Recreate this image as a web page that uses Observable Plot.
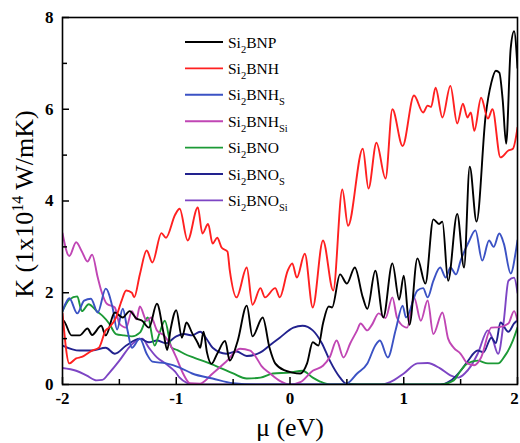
<!DOCTYPE html>
<html><head><meta charset="utf-8">
<script src="https://cdn.jsdelivr.net/npm/d3@7"></script>
<script src="https://cdn.jsdelivr.net/npm/@observablehq/plot@0.6"></script>
<style>
body{margin:0;background:#fff}
#chart{position:relative;width:520px;height:443px}
#chart svg, #chart svg text, #chart svg tspan { font-family: "Liberation Serif", "Times New Roman", Times, "DejaVu Serif", serif !important; }
</style>
</head><body><div id="chart"></div>
<script>
// tick values
const xTicks = [-2, -1, 0, 1, 2];
const xMinor = [-1.5, -0.5, 0.5, 1.5];
const yTicks = [0, 2, 4, 6, 8];
const yMinor = [1, 3, 5, 7];

// series names (legend) and colours
const names = ["Si2BNP", "Si2BNH", "Si2BNHS", "Si2BNHSi", "Si2BNO", "Si2BNOS", "Si2BNOSi"];
const legendSub = ["", "", "S", "Si", "", "S", "Si"];
const legendBase = ["BNP", "BNH", "BNH", "BNH", "BNO", "BNO", "BNO"];
const colors = ["#000000", "#ff2020", "#3b52c4", "#c046b4", "#1c9a36", "#22228e", "#7d45c4"];

// [mu (eV), K (1e14 W/mK)]
const kBNP = [[-2.00,1.4],[-1.99,1.39],[-1.92,1.07],[-1.85,1.07],[-1.78,1.22],[-1.74,1.08],[-1.66,1.28],[-1.62,1.07],[-1.54,1.57],[-1.47,1.46],[-1.41,1.6],[-1.35,1.44],[-1.30,1.39],[-1.24,1.24],[-1.17,1.76],[-1.11,1.1],[-1.08,0.75],[-1.05,1.2],[-1.00,1.62],[-0.95,1.02],[-0.91,1.35],[-0.86,1.12],[-0.81,0.9],[-0.79,0.8],[-0.76,1.15],[-0.73,0.7],[-0.69,0.45],[-0.64,0.67],[-0.57,0.95],[-0.53,0.52],[-0.46,0.95],[-0.38,1.72],[-0.33,1.05],[-0.24,1.46],[-0.18,0.8],[-0.13,0.46],[-0.04,0.3],[0.02,0.26],[0.09,0.24],[0.15,0.46],[0.20,0.92],[0.25,0.85],[0.29,1.33],[0.34,1.7],[0.37,1.68],[0.44,2.4],[0.50,2.2],[0.57,2.55],[0.64,1.9],[0.68,1.65],[0.75,2.48],[0.82,1.46],[0.90,2.64],[0.96,1.85],[1.00,2.37],[1.05,1.3],[1.12,2.75],[1.19,2.2],[1.26,3.6],[1.31,3.5],[1.34,3.55],[1.39,2.26],[1.47,3.72],[1.53,2.55],[1.58,4.75],[1.64,3.55],[1.72,5.86],[1.77,6.58],[1.81,6.84],[1.84,6.8],[1.87,6.2],[1.90,5.25],[1.94,7.32],[1.97,7.7],[2.00,6.9]];
const kBNH = [[-2.00,1.55],[-1.94,0.46],[-1.88,0.57],[-1.83,0.6],[-1.74,0.74],[-1.68,0.8],[-1.62,1.18],[-1.59,1.24],[-1.53,1.46],[-1.48,1.83],[-1.44,2.05],[-1.39,2.0],[-1.37,1.9],[-1.32,2.4],[-1.26,2.92],[-1.21,2.66],[-1.13,3.3],[-1.09,3.2],[-1.01,3.7],[-0.97,3.83],[-0.90,3.14],[-0.81,3.86],[-0.77,3.29],[-0.72,3.5],[-0.68,3.07],[-0.64,3.2],[-0.60,2.98],[-0.55,2.9],[-0.53,2.5],[-0.47,1.9],[-0.38,2.55],[-0.33,1.74],[-0.26,2.1],[-0.22,1.9],[-0.13,2.1],[-0.09,1.9],[-0.02,2.48],[0.02,2.64],[0.06,2.33],[0.13,2.85],[0.20,1.68],[0.29,3.14],[0.38,2.05],[0.46,4.25],[0.51,3.46],[0.64,5.14],[0.69,4.27],[0.76,5.27],[0.84,4.49],[0.90,6.0],[0.99,5.2],[1.09,6.3],[1.17,5.93],[1.21,6.08],[1.24,6.05],[1.28,6.47],[1.34,5.82],[1.41,6.51],[1.47,5.69],[1.52,6.12],[1.56,5.82],[1.59,5.93],[1.62,5.53],[1.68,6.25],[1.74,5.8],[1.78,6.0],[1.85,4.95],[1.92,5.1],[1.96,5.14],[2.00,5.6]];
const kBNHS = [[-2.00,1.6],[-1.94,1.88],[-1.87,1.55],[-1.81,1.83],[-1.75,1.87],[-1.69,1.57],[-1.62,2.09],[-1.56,1.68],[-1.52,1.2],[-1.47,1.65],[-1.43,1.2],[-1.39,0.8],[-1.32,1.0],[-1.26,0.67],[-1.21,0.5],[-1.09,0.46],[-0.97,0.37],[-0.86,0.24],[-0.68,0.13],[-0.50,0.03],[-0.26,0.0],[0.44,0.0],[0.50,0.02],[0.59,0.24],[0.68,0.46],[0.75,0.85],[0.79,0.96],[0.86,0.59],[0.93,1.2],[0.99,1.72],[1.02,1.46],[1.12,2.05],[1.17,2.1],[1.21,1.9],[1.26,2.26],[1.32,2.55],[1.37,2.33],[1.41,2.55],[1.46,2.4],[1.50,2.7],[1.57,3.1],[1.63,3.36],[1.69,2.7],[1.75,3.14],[1.79,3.0],[1.84,3.29],[1.88,3.07],[1.94,2.42],[1.99,2.98],[2.00,3.14]];
const kBNHSi = [[-2.00,3.3],[-1.94,2.8],[-1.88,3.1],[-1.83,2.9],[-1.78,2.68],[-1.74,2.83],[-1.69,2.33],[-1.66,2.05],[-1.61,1.76],[-1.54,1.68],[-1.50,1.33],[-1.44,1.24],[-1.39,1.6],[-1.35,1.42],[-1.32,1.7],[-1.26,1.39],[-1.22,1.46],[-1.17,1.18],[-1.10,1.05],[-1.06,0.9],[-1.00,0.59],[-0.94,0.24],[-0.88,0.03],[-0.79,0.02],[-0.68,0.24],[-0.56,0.5],[-0.44,0.78],[-0.35,0.74],[-0.30,0.6],[-0.25,0.4],[-0.18,0.25],[-0.09,0.08],[0.00,0.0],[0.09,0.05],[0.20,0.3],[0.29,0.41],[0.35,0.6],[0.41,0.96],[0.47,0.59],[0.53,0.9],[0.59,1.18],[0.62,1.33],[0.68,1.18],[0.72,1.3],[0.78,1.55],[0.84,1.45],[0.90,1.9],[0.94,1.46],[0.97,1.33],[1.03,1.24],[1.09,1.9],[1.15,1.39],[1.21,1.83],[1.26,1.1],[1.34,1.57],[1.39,1.0],[1.44,0.8],[1.50,0.67],[1.56,0.46],[1.62,0.42],[1.68,0.59],[1.77,1.24],[1.84,1.25],[1.92,1.33],[1.97,1.6],[2.00,1.39]];
const kBNO = [[-2.00,1.6],[-1.94,1.85],[-1.87,1.92],[-1.83,1.6],[-1.77,1.75],[-1.70,1.6],[-1.65,1.5],[-1.59,1.33],[-1.53,1.1],[-1.46,1.07],[-1.39,1.05],[-1.32,1.13],[-1.25,1.46],[-1.19,0.85],[-1.15,1.1],[-1.10,1.39],[-1.04,0.8],[-0.99,0.75],[-0.93,0.67],[-0.84,0.58],[-0.73,0.48],[-0.62,0.37],[-0.50,0.24],[-0.38,0.13],[-0.26,0.15],[-0.15,0.24],[0.00,0.26],[0.11,0.3],[0.20,0.15],[0.26,0.07],[0.35,0.0],[1.32,0.0],[1.44,0.09],[1.50,0.3],[1.56,0.46],[1.65,0.52],[1.74,0.46],[1.83,0.46],[1.88,0.59],[1.96,0.96],[2.00,1.24]];
const kBNOS = [[-2.00,0.85],[-1.85,0.74],[-1.74,0.74],[-1.62,0.8],[-1.54,0.67],[-1.44,0.85],[-1.32,1.0],[-1.24,0.92],[-1.17,0.96],[-1.09,0.9],[-1.00,1.05],[-0.93,1.1],[-0.86,1.07],[-0.79,1.15],[-0.73,0.98],[-0.68,0.8],[-0.56,0.67],[-0.47,0.72],[-0.38,0.62],[-0.26,0.7],[-0.18,0.85],[-0.09,1.02],[0.03,1.24],[0.11,1.28],[0.20,1.18],[0.28,0.9],[0.35,0.52],[0.44,0.15],[0.50,0.01],[0.60,0.0],[1.32,0.0],[1.41,0.08],[1.50,0.3],[1.56,0.5],[1.65,0.74],[1.70,0.7],[1.77,1.02],[1.81,0.9],[1.85,1.35],[1.92,1.15],[1.97,1.33],[2.00,1.4]];
const kBNOSi = [[-2.00,0.36],[-1.88,0.3],[-1.79,0.2],[-1.70,0.09],[-1.65,0.1],[-1.59,0.25],[-1.50,0.52],[-1.41,0.82],[-1.35,0.96],[-1.30,1.0],[-1.24,0.8],[-1.17,0.59],[-1.09,0.45],[-1.01,0.28],[-0.97,0.15],[-0.91,0.04],[-0.84,0.0],[0.80,0.0],[0.88,0.05],[1.00,0.24],[1.12,0.46],[1.21,0.47],[1.32,0.35],[1.41,0.2],[1.48,0.15],[1.54,0.25],[1.59,0.4],[1.65,0.67],[1.74,1.18],[1.78,1.0],[1.83,0.67],[1.88,1.4],[1.92,2.26],[1.97,2.33],[2.00,2.0]];

const seriesValues = [kBNP, kBNH, kBNHS, kBNHSi, kBNO, kBNOS, kBNOSi];
// draw order: bottom layers first so black/red end up on top
const drawOrder = [6, 5, 4, 3, 2, 0, 1];

const rows = [];
drawOrder.forEach(i => seriesValues[i].forEach(([mu, k]) => rows.push({name: names[i], mu, k})));

const serif = "Liberation Serif, Times New Roman, Times, DejaVu Serif, serif";

const plot = Plot.plot({
  width: 520, height: 443,
  marginLeft: 62, marginRight: 3, marginTop: 17, marginBottom: 59,
  style: {fontFamily: serif, background: "white", color: "black", overflow: "visible"},
  x: {domain: [-2, 2]},
  y: {domain: [0, 8]},
  color: {domain: names, range: colors},
  marks: [
    Plot.line(rows, {x: "mu", y: "k", z: "name", stroke: "name", curve: "monotone-x", strokeWidth: 1.9, clip: true}),
    Plot.tickY(yTicks, {y: d => d, insetRight: 448, stroke: "black", strokeWidth: 1.5}),
    Plot.tickY(yMinor, {y: d => d, insetRight: 450, stroke: "black", strokeWidth: 1.5}),
    Plot.tickX(xTicks, {x: d => d, insetTop: 360, stroke: "black", strokeWidth: 1.5}),
    Plot.tickX(xMinor, {x: d => d, insetTop: 362, stroke: "black", strokeWidth: 1.5}),
    Plot.axisX(xTicks, {tickSize: 0, tickPadding: 7, fontSize: 17, fontWeight: "bold", tickFormat: d => String(d), label: null}),
    Plot.axisY(yTicks, {tickSize: 0, tickPadding: 9, fontSize: 17, fontWeight: "bold", tickFormat: d => String(d), label: null}),
    Plot.frame({stroke: "black", strokeWidth: 1.6})
  ]
});

document.getElementById("chart").appendChild(plot);
const svg = d3.select(plot);

// keep the last x tick label inside the picture
svg.selectAll("g[aria-label='x-axis tick label'] text")
  .filter(function() { return this.textContent === "2"; })
  .attr("dx", -3);

// axis titles
svg.append("text")
  .attr("x", 290).attr("y", 436)
  .attr("text-anchor", "middle")
  .attr("font-family", serif).attr("font-size", 26)
  .text("μ (eV)");

const yt = svg.append("text")
  .attr("transform", "translate(33,204) rotate(-90)")
  .attr("text-anchor", "middle")
  .attr("font-family", serif).attr("font-size", 26);
yt.append("tspan").text("K (1x10");
yt.append("tspan").attr("font-size", 16).attr("dy", -10).text("14");
yt.append("tspan").attr("dy", 10).text(" W/mK)");

// legend
const lg = svg.append("g");
names.forEach((n, i) => {
  const y = 42 + i * 26.4;
  lg.append("line").attr("x1", 185).attr("x2", 223).attr("y1", y).attr("y2", y)
    .attr("stroke", colors[i]).attr("stroke-width", 1.9);
  const t = lg.append("text").attr("x", 228).attr("y", y + 5.5)
    .attr("text-anchor", "start")
    .attr("font-family", serif).attr("font-size", 15.5).attr("fill", "black");
  t.append("tspan").text("Si");
  t.append("tspan").attr("font-size", 10.5).attr("dy", 5).text("2");
  t.append("tspan").attr("dy", -5).text(legendBase[i]);
  if (legendSub[i]) t.append("tspan").attr("font-size", 10.5).attr("dy", 5).text(legendSub[i]);
});
</script>
</body></html>
